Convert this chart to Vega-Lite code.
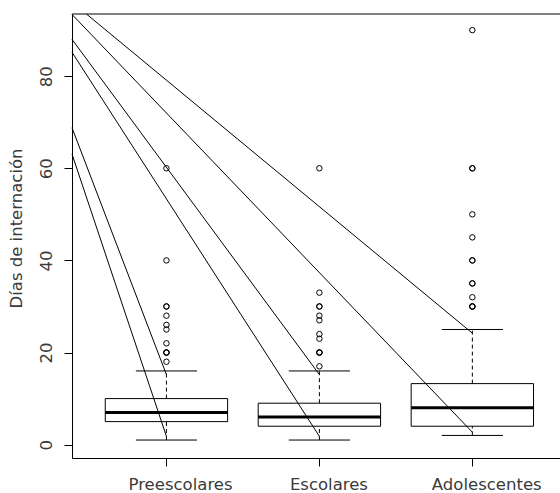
{
  "$schema": "https://vega.github.io/schema/vega-lite/v6.json",
  "autosize": {"type": "none"},
  "padding": {"left": 72, "top": 14, "right": 0, "bottom": 35},
  "width": 488,
  "height": 444,
  "background": "white",
  "config": {
    "view": {"stroke": null},
    "font": "DejaVu Sans",
    "axis": {"labelFont": "DejaVu Sans", "titleFont": "DejaVu Sans", "labelColor": "#3a3a3a", "titleColor": "#3a3a3a", "labelFontWeight": "normal", "titleFontWeight": "normal", "domainColor": "black", "tickColor": "black", "grid": false}
  },
  "datasets": {
    "boxes": [
      {"grupo": "Preescolares", "g": 1, "lo": 1, "q1": 5, "med": 7, "q3": 10, "hi": 16},
      {"grupo": "Escolares", "g": 2, "lo": 1, "q1": 4, "med": 6, "q3": 9, "hi": 16},
      {"grupo": "Adolescentes", "g": 3, "lo": 2, "q1": 4, "med": 8, "q3": 13.25, "hi": 25}
    ],
    "outliers": [
      {"g": 1, "dias": 18}, {"g": 1, "dias": 20}, {"g": 1, "dias": 20}, {"g": 1, "dias": 20}, {"g": 1, "dias": 22},
      {"g": 1, "dias": 25}, {"g": 1, "dias": 26}, {"g": 1, "dias": 28}, {"g": 1, "dias": 30}, {"g": 1, "dias": 30},
      {"g": 1, "dias": 40}, {"g": 1, "dias": 60},
      {"g": 2, "dias": 17}, {"g": 2, "dias": 20}, {"g": 2, "dias": 20}, {"g": 2, "dias": 20}, {"g": 2, "dias": 23},
      {"g": 2, "dias": 24}, {"g": 2, "dias": 27}, {"g": 2, "dias": 28}, {"g": 2, "dias": 30}, {"g": 2, "dias": 30},
      {"g": 2, "dias": 33}, {"g": 2, "dias": 60},
      {"g": 3, "dias": 30}, {"g": 3, "dias": 30}, {"g": 3, "dias": 30}, {"g": 3, "dias": 32}, {"g": 3, "dias": 35},
      {"g": 3, "dias": 35}, {"g": 3, "dias": 40}, {"g": 3, "dias": 40}, {"g": 3, "dias": 45}, {"g": 3, "dias": 50},
      {"g": 3, "dias": 60}, {"g": 3, "dias": 60}, {"g": 3, "dias": 90}
    ],
    "lines": [
      {"x0": 0.477, "y0": 93.5, "x1": 3.0, "y1": 24.2},
      {"x0": 0.3826, "y0": 93.4, "x1": 3.0, "y1": 2.7},
      {"x0": 0.3826, "y0": 88.0, "x1": 2.0, "y1": 15.2},
      {"x0": 0.3826, "y0": 85.2, "x1": 2.0, "y1": 1.8},
      {"x0": 0.3826, "y0": 68.8, "x1": 1.0, "y1": 15.2},
      {"x0": 0.3826, "y0": 63.1, "x1": 1.0, "y1": 1.8}
    ]
  },
  "layer": [
    {
      "data": {"name": "boxes"},
      "transform": [
        {"calculate": "datum.g - 0.4", "as": "xl"},
        {"calculate": "datum.g + 0.4", "as": "xr"}
      ],
      "mark": {"type": "rect", "fill": "white", "stroke": "black", "strokeWidth": 1},
      "encoding": {
        "x": {
          "field": "xl", "type": "quantitative",
          "scale": {"domain": [0.3826, 3.573], "nice": false, "zero": false},
          "axis": {
            "title": null, "values": [1, 2, 3], "tickSize": 8, "domainWidth": 1,
            "labelExpr": "datum.value == 1 ? 'Preescolares' : datum.value == 2 ? 'Escolares' : 'Adolescentes'",
            "labelFontSize": 16.5, "labelAlign": "left", "labelBaseline": "top", "labelPadding": 10,
            "labelOffset": {"expr": "datum.value == 1 ? -38.4 : datum.value == 2 ? -30 : -41"},
            "labelFlush": false, "labelOverlap": false, "labelBound": false
          }
        },
        "x2": {"field": "xr"},
        "y": {
          "field": "q1", "type": "quantitative",
          "scale": {"domain": [-2.9, 93.5], "nice": false, "zero": false},
          "axis": {
            "title": "Días de internación", "values": [0, 20, 40, 60, 80], "tickSize": 8,
            "labelFontSize": 16.5, "labelAngle": 270, "labelAlign": "center", "labelBaseline": "bottom", "labelPadding": 10,
            "titleFontSize": 16.5, "titleAngle": 270, "titleX": -56, "titleY": 214, "titleAlign": "center", "titleBaseline": "middle"
          }
        },
        "y2": {"field": "q3"}
      }
    },
    {
      "data": {"name": "boxes"},
      "mark": {"type": "rule", "color": "black", "strokeWidth": 1, "strokeDash": [4, 3]},
      "encoding": {
        "x": {"field": "g", "type": "quantitative"},
        "y": {"field": "q3", "type": "quantitative"},
        "y2": {"field": "hi"}
      }
    },
    {
      "data": {"name": "boxes"},
      "mark": {"type": "rule", "color": "black", "strokeWidth": 1, "strokeDash": [4, 3]},
      "encoding": {
        "x": {"field": "g", "type": "quantitative"},
        "y": {"field": "lo", "type": "quantitative"},
        "y2": {"field": "q1"}
      }
    },
    {
      "data": {"name": "boxes"},
      "transform": [
        {"calculate": "datum.g - 0.2", "as": "cl"},
        {"calculate": "datum.g + 0.2", "as": "cr"}
      ],
      "mark": {"type": "rule", "color": "black", "strokeWidth": 1},
      "encoding": {
        "x": {"field": "cl", "type": "quantitative"},
        "x2": {"field": "cr"},
        "y": {"field": "hi", "type": "quantitative"}
      }
    },
    {
      "data": {"name": "boxes"},
      "transform": [
        {"calculate": "datum.g - 0.2", "as": "cl"},
        {"calculate": "datum.g + 0.2", "as": "cr"}
      ],
      "mark": {"type": "rule", "color": "black", "strokeWidth": 1},
      "encoding": {
        "x": {"field": "cl", "type": "quantitative"},
        "x2": {"field": "cr"},
        "y": {"field": "lo", "type": "quantitative"}
      }
    },
    {
      "data": {"name": "boxes"},
      "transform": [
        {"calculate": "datum.g - 0.4", "as": "xl"},
        {"calculate": "datum.g + 0.4", "as": "xr"}
      ],
      "mark": {"type": "rule", "color": "black", "strokeWidth": 3},
      "encoding": {
        "x": {"field": "xl", "type": "quantitative"},
        "x2": {"field": "xr"},
        "y": {"field": "med", "type": "quantitative"}
      }
    },
    {
      "data": {"name": "outliers"},
      "mark": {"type": "point", "shape": "circle", "filled": false, "color": "black", "strokeWidth": 1, "size": 30, "opacity": 1},
      "encoding": {
        "x": {"field": "g", "type": "quantitative"},
        "y": {"field": "dias", "type": "quantitative"}
      }
    },
    {
      "data": {"name": "lines"},
      "mark": {"type": "rule", "color": "black", "strokeWidth": 1},
      "encoding": {
        "x": {"field": "x0", "type": "quantitative"},
        "x2": {"field": "x1"},
        "y": {"field": "y0", "type": "quantitative"},
        "y2": {"field": "y1"}
      }
    },
    {
      "data": {"values": [{}]},
      "mark": {"type": "rule", "color": "black", "strokeWidth": 1},
      "encoding": {
        "y": {"datum": 93.5, "type": "quantitative"}
      }
    }
  ]
}
